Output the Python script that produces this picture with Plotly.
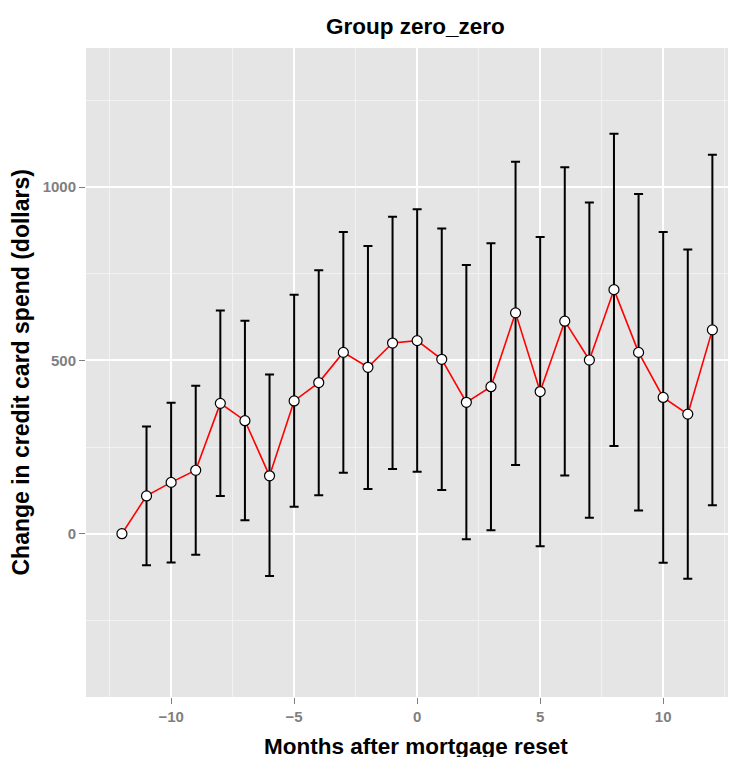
import plotly.graph_objects as go

months = list(range(-12, 13))
spend = [0, 109, 148, 183, 376, 326, 167, 383, 436, 523, 480, 550, 557,
         503, 379, 424, 637, 410, 613, 501, 704, 523, 393, 345, 588]
upper = [0, 309, 378, 427, 644, 614, 459, 689, 760, 870, 830, 914, 936,
         880, 775, 838, 1073, 856, 1057, 955, 1154, 980, 870, 820, 1093]
lower = [0, -91, -83, -61, 109, 39, -122, 78, 111, 176, 129, 187, 179,
         126, -16, 10, 198, -36, 168, 46, 253, 67, -84, -130, 82]

title_text = "Group zero_zero"
x_title = "Months after mortgage reset"
y_title = "Change in credit card spend (dollars)"

err_plus = [u - v for u, v in zip(upper, spend)]
err_minus = [v - l for v, l in zip(spend, lower)]
has_err = [u != l for u, l in zip(upper, lower)]
ex = [m for m, h in zip(months, has_err) if h]
ey = [v for v, h in zip(spend, has_err) if h]
ep = [p for p, h in zip(err_plus, has_err) if h]
em = [p for p, h in zip(err_minus, has_err) if h]

FONT = "Liberation Sans, Arial, Helvetica, sans-serif"

fig = go.Figure()
fig.add_trace(go.Scatter(
    x=ex, y=ey, mode="markers",
    marker=dict(size=1, opacity=0),
    error_y=dict(type="data", symmetric=False, array=ep, arrayminus=em,
                 color="black", thickness=2, width=4.5),
    hoverinfo="skip", showlegend=False,
))
fig.add_trace(go.Scatter(
    x=months, y=spend, mode="lines+markers",
    line=dict(color="#FF0000", width=1.6),
    marker=dict(size=10, color="white", line=dict(color="black", width=1.2)),
    showlegend=False,
))

# page body has an 8px margin, so the figure is offset by 8px
OFF = 8
W, H = 736 - OFF, 757 - OFF
L, R, T = 86 - OFF, 0, 48 - OFF
pw = W - L - R
ph = 649
B = H - T - ph

fig.update_layout(
    width=W, height=H,
    margin=dict(l=L, r=R, t=T, b=B, pad=0),
    paper_bgcolor="white",
    plot_bgcolor="#E5E5E5",
    font=dict(family=FONT),
    xaxis=dict(
        range=[-13.46, 12.96], tickmode="linear", tick0=0, dtick=5,
        showgrid=True, gridcolor="white", gridwidth=1.5, zeroline=False,
        ticks="outside", ticklen=6, tickwidth=1, tickcolor="#7F7F7F",
        tickfont=dict(family=FONT, size=15, color="#7F7F7F", weight="bold"),
        minor=dict(tick0=2.5, dtick=5, showgrid=True, gridcolor="#F2F2F2", gridwidth=0.8),
        showline=False, fixedrange=True,
    ),
    yaxis=dict(
        range=[-471, 1401], tickmode="linear", tick0=0, dtick=500,
        showgrid=True, gridcolor="white", gridwidth=1.5, zeroline=False,
        ticks="outside", ticklen=6, tickwidth=1, tickcolor="#7F7F7F",
        tickfont=dict(family=FONT, size=15, color="#7F7F7F", weight="bold"),
        minor=dict(tick0=250, dtick=500, showgrid=True, gridcolor="#F2F2F2", gridwidth=0.8),
        showline=False, fixedrange=True,
    ),
    annotations=[
        dict(text=title_text, xref="paper", yref="paper",
             x=(415.5 - OFF - L) / pw, y=1 + (T - (27 - OFF)) / ph,
             xanchor="center", yanchor="middle",
             showarrow=False, font=dict(family=FONT, size=22.5, color="black", weight="bold")),
        dict(text=x_title, xref="paper", yref="paper",
             x=(416 - OFF - L) / pw, y=-((746 - OFF) - (T + ph)) / ph,
             xanchor="center", yanchor="middle",
             showarrow=False, font=dict(family=FONT, size=22.5, color="black", weight="bold")),
        dict(text=y_title, xref="paper", yref="paper",
             x=(20 - OFF - L) / pw, y=0.5, xanchor="center", yanchor="middle", textangle=-90,
             showarrow=False, font=dict(family=FONT, size=23, color="black", weight="bold")),
    ],
)

fig.write_html("out.html")
